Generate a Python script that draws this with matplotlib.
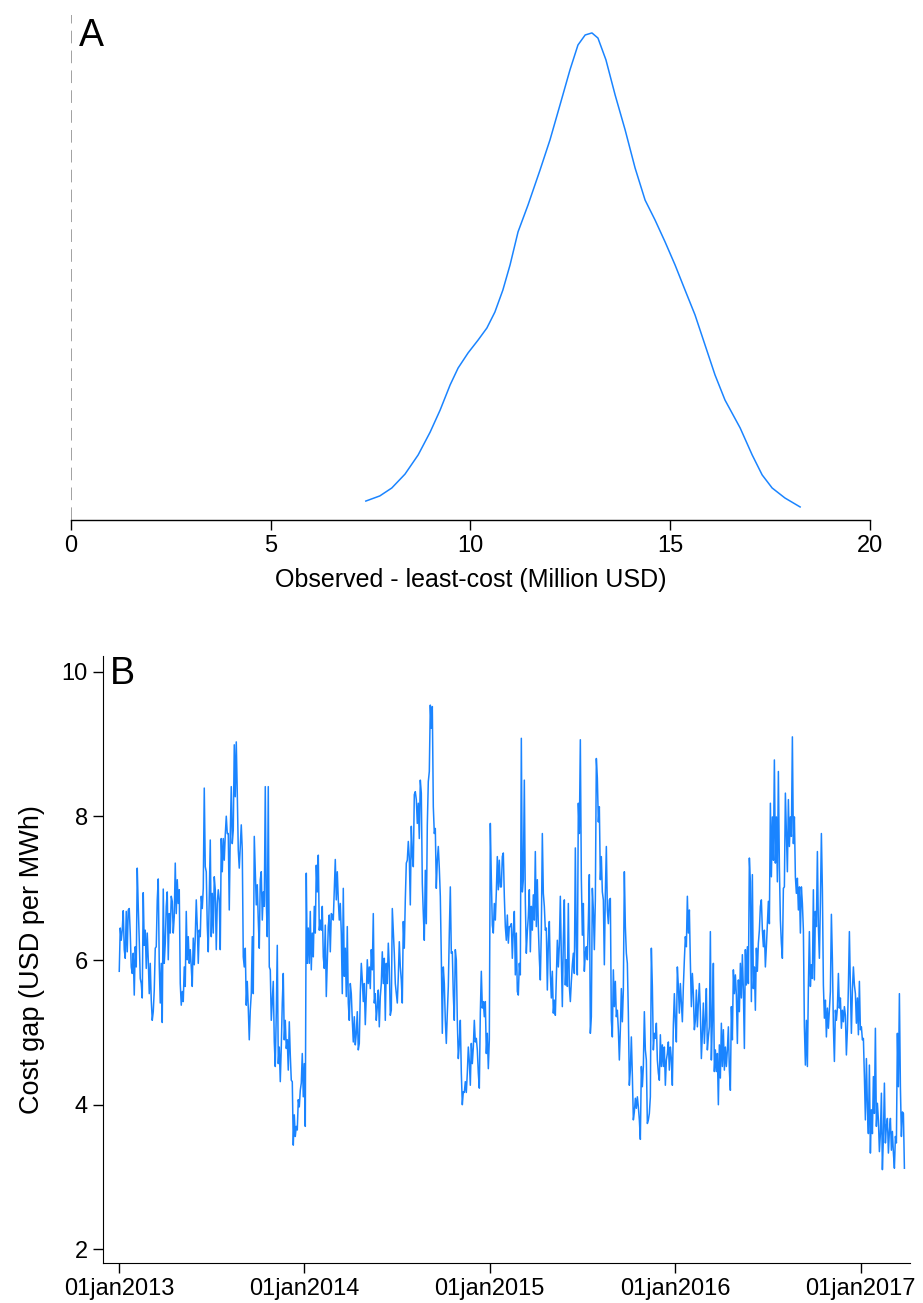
import matplotlib
matplotlib.use("Agg")
import matplotlib.pyplot as plt
import matplotlib.dates as mdates
import pandas as pd

plt.rcParams['font.family'] = ['Liberation Sans', 'DejaVu Sans']

# panel A: density of observed - least-cost (Million USD)
dens_x = [7.38, 7.73, 8.03, 8.36, 8.69, 8.99, 9.24, 9.49, 9.69, 9.94,
          10.19, 10.41, 10.61, 10.81, 10.99, 11.19, 11.44, 11.74, 11.99, 12.24,
          12.49, 12.69, 12.87, 13.04, 13.19, 13.39, 13.62, 13.87, 14.12, 14.37,
          14.62, 14.87, 15.12, 15.37, 15.62, 15.87, 16.12, 16.37, 16.75, 17.05,
          17.30, 17.55, 17.87, 18.25]
dens_y = [0.0074, 0.0094, 0.0125, 0.0179, 0.0254, 0.0343, 0.0429, 0.0527, 0.0593, 0.0652,
          0.0702, 0.0749, 0.0811, 0.0897, 0.0995, 0.1124, 0.1229, 0.1365, 0.1483, 0.1619,
          0.1756, 0.1853, 0.1892, 0.1900, 0.1880, 0.1795, 0.1658, 0.1522, 0.1373, 0.1248,
          0.1170, 0.1085, 0.0995, 0.0897, 0.0800, 0.0683, 0.0566, 0.0468, 0.0359, 0.0254,
          0.0176, 0.0125, 0.0086, 0.0051]
a_ticks = [0, 5, 10, 15, 20]

# panel B: daily cost gap (USD per MWh), read about every other day
gap_2013a = [5.85, 6.45, 6.28, 6.42, 6.69, 6.15, 6.03, 6.68, 6.12, 6.70,
             6.72, 6.38, 5.91, 5.82, 6.10, 5.52, 6.19, 5.91, 7.28, 6.75,
             6.28, 5.75, 5.68, 5.48, 6.94, 6.21, 6.42, 5.89, 6.38, 6.01,
             5.54, 5.96, 5.45, 5.17, 5.29, 5.59, 6.17, 6.19, 6.84, 7.13,
             5.94, 5.41, 5.96, 5.14, 6.99, 5.96, 6.24, 6.75, 6.95, 6.01,
             6.65, 6.38, 6.89, 6.82, 6.38, 6.61, 7.35, 6.65, 7.12, 6.79,
             6.98, 5.68, 5.38, 5.57, 5.43, 5.91, 5.64, 6.68, 6.01, 6.33,
             5.96, 6.15, 5.91, 5.64, 6.31, 5.94, 6.33, 6.84, 6.47, 5.96,
             6.42, 6.33, 6.89, 6.72, 7.00, 8.39, 7.30, 7.23, 6.49, 6.12,
             6.89]
gap_2013b = [7.67, 6.33, 6.93, 6.38, 7.16, 6.98, 6.15, 6.79, 6.98, 6.84,
             6.15, 7.69, 7.23, 7.69, 7.39, 7.74, 8.00, 7.76, 7.76, 6.70,
             7.76, 8.41, 7.62, 7.81, 8.99, 8.27, 9.03, 8.32, 7.53, 7.28,
             7.58, 7.88, 7.53, 6.05, 5.91, 6.17, 5.38, 5.71, 5.34, 4.90,
             5.31, 5.54, 6.33, 5.54, 7.72, 7.25, 6.77, 7.05, 6.56, 6.17,
             7.12, 7.23, 6.56, 6.95, 6.75, 8.41, 6.84, 6.33, 8.41, 5.91,
             5.87, 5.17, 5.43, 5.71, 4.87, 4.53, 5.27, 6.21, 4.57, 4.80,
             4.32, 4.80, 5.41, 5.82, 4.90, 5.17, 4.78, 4.90, 4.48, 5.15,
             4.69, 4.34, 4.32, 3.44, 3.86, 3.56, 3.70, 3.65, 4.07, 3.97,
             4.20, 4.30, 4.71, 4.11, 4.57, 3.70, 7.21, 5.96, 6.45, 5.96]
gap_2014a = [6.68, 5.87, 6.38, 6.05, 6.75, 6.38, 7.32, 6.95, 7.46, 6.42,
             6.56, 6.42, 6.75, 6.05, 5.89, 6.49, 5.50, 5.96, 6.47, 6.63,
             6.12, 6.65, 6.63, 6.56, 6.98, 7.40, 6.84, 7.23, 6.84, 6.56,
             6.79, 6.38, 5.54, 7.00, 5.78, 6.17, 5.50, 6.47, 5.41, 5.17,
             5.68, 5.54, 5.17, 4.87, 5.22, 4.83, 4.99, 5.29, 4.76, 4.85,
             5.54, 5.96, 5.73, 5.43, 5.68, 5.11, 5.52, 6.01, 5.68, 5.91,
             5.61, 6.15, 5.87, 6.65, 5.41, 5.54, 5.17, 5.36, 5.59, 5.08,
             5.50, 5.68, 6.12, 5.68, 6.03, 5.17, 5.96, 5.68, 6.24, 5.91,
             5.24, 5.31, 6.72, 6.42, 6.10, 5.68, 5.54, 5.41, 5.78, 6.26,
             5.91, 5.73, 5.41, 6.54, 6.17, 6.84, 7.35, 7.39, 7.65, 7.42]
gap_2014b = [6.77, 7.86, 7.46, 7.30, 8.30, 8.34, 8.23, 7.90, 8.18, 7.69,
             8.50, 8.32, 7.07, 6.65, 6.28, 7.25, 6.51, 7.88, 8.48, 8.62,
             9.54, 9.22, 9.52, 8.13, 7.76, 7.83, 7.00, 7.39, 7.58, 7.28,
             6.89, 6.05, 4.99, 5.91, 5.68, 5.17, 4.85, 5.27, 5.64, 6.38,
             7.02, 6.10, 6.12, 5.52, 5.17, 6.15, 6.01, 5.17, 4.64, 4.85,
             5.17, 4.44, 4.00, 4.18, 4.17, 4.32, 4.17, 4.44, 4.80, 4.60,
             4.27, 4.85, 4.57, 4.80, 5.17, 4.87, 4.92, 4.76, 4.44, 4.23,
             5.27, 5.85, 5.34, 5.43, 5.22, 5.43, 4.71, 4.99, 4.50, 4.90,
             7.90, 7.14, 6.49, 6.38, 6.79, 6.56, 6.95, 7.44, 6.98, 7.39,
             7.02, 7.02, 7.44, 7.49, 6.89, 6.47, 6.28, 6.63, 6.24, 6.47]
gap_2015a = [6.47, 6.51, 6.03, 6.42, 6.68, 5.80, 6.38, 5.57, 5.52, 5.96,
             5.80, 9.08, 6.95, 7.12, 8.50, 6.82, 6.10, 6.40, 6.61, 6.98,
             6.12, 6.75, 6.42, 6.91, 6.56, 7.51, 6.47, 7.12, 6.47, 6.03,
             5.73, 6.42, 7.76, 6.93, 6.75, 6.42, 6.45, 5.59, 6.24, 6.54,
             5.82, 5.48, 5.85, 5.27, 5.45, 5.24, 5.78, 6.28, 5.91, 6.21,
             6.89, 6.05, 5.36, 6.28, 6.84, 5.66, 6.01, 5.64, 6.79, 5.64,
             5.43, 5.71, 5.94, 6.10, 5.82, 7.56, 6.19, 5.80, 8.18, 7.76,
             9.06, 7.14, 6.35, 6.79, 5.85, 6.10, 6.19, 6.01, 6.54, 7.19,
             4.99, 5.22, 7.00, 6.70, 6.15, 6.84, 8.80, 8.53, 7.92, 8.13,
             7.12, 7.44, 6.95, 6.84, 5.94, 6.93, 7.58, 6.70, 6.51, 6.84]
gap_2015b = [6.86, 5.17, 4.94, 5.87, 5.36, 5.71, 5.22, 5.31, 5.04, 4.62,
             5.04, 5.61, 5.15, 5.59, 7.23, 6.47, 6.10, 5.96, 5.27, 4.27,
             4.48, 4.94, 4.41, 3.79, 3.90, 4.09, 3.95, 4.11, 3.97, 3.79,
             3.52, 4.53, 4.25, 4.53, 5.29, 4.76, 4.62, 3.74, 3.79, 3.88,
             4.11, 6.17, 5.64, 4.76, 4.99, 4.92, 5.13, 4.62, 4.44, 4.34,
             4.97, 4.53, 4.83, 4.53, 4.80, 4.27, 4.62, 4.71, 4.87, 4.48,
             4.80, 4.64, 4.27, 5.11, 5.54, 5.15, 4.87, 5.91, 5.64, 5.27,
             5.68, 5.41, 5.15, 5.64, 6.01, 6.33, 6.19, 6.89, 6.38, 6.70,
             5.98, 5.36, 5.82, 5.54, 5.04, 5.17, 5.59, 5.08, 5.41, 5.68,
             5.29, 4.64, 4.99, 5.41, 4.85, 5.17, 5.61, 4.76, 4.94, 5.08]
gap_2016 = [6.40, 4.62, 5.17, 5.96, 4.46, 4.76, 4.46, 4.71, 4.00, 4.83,
            4.37, 5.13, 4.53, 5.04, 4.48, 4.80, 4.53, 4.76, 5.08, 4.48,
            4.20, 5.36, 4.90, 5.87, 5.54, 5.80, 5.52, 4.85, 5.73, 5.29,
            5.96, 5.48, 6.08, 5.59, 4.78, 6.15, 5.66, 6.19, 5.68, 7.42,
            7.09, 5.43, 7.19, 5.61, 5.91, 5.31, 6.17, 5.85, 6.24, 6.42,
            6.75, 6.84, 6.42, 6.19, 6.42, 5.91, 6.19, 6.51, 6.82, 6.51,
            8.18, 7.16, 7.99, 7.39, 8.78, 7.35, 7.99, 7.09, 8.62, 7.30,
            6.56, 6.24, 6.03, 7.00, 7.02, 8.32, 7.76, 7.23, 8.23, 7.58,
            7.99, 7.72, 9.10, 7.62, 7.99, 7.16, 6.93, 7.14, 6.70, 7.02,
            6.38, 7.02, 6.79, 6.42, 5.08, 4.55, 5.17, 4.53, 5.64, 6.40]
gap_2016b = [5.64, 5.94, 5.75, 6.98, 5.73, 6.68, 6.47, 7.51, 6.47, 6.03,
             6.79, 7.76, 6.98, 5.66, 5.20, 5.45, 4.94, 5.34, 5.06, 5.31,
             5.57, 6.64, 6.01, 5.08, 4.60, 5.31, 5.17, 5.34, 5.82, 5.34,
             5.48, 5.06, 5.31, 5.15, 5.36, 5.24, 4.69, 5.04, 5.64, 6.40,
             5.64, 4.99, 5.59, 5.91, 5.66]
gap_2017 = [5.54, 5.13, 5.48, 4.97, 5.71, 5.04, 5.08, 4.90, 4.92, 4.39,
            3.79, 4.64, 3.97, 3.60, 4.55, 3.33, 3.93, 3.60, 4.39, 3.88,
            5.06, 3.70, 4.02, 3.79, 3.35, 3.60, 4.16, 3.10, 3.56, 4.30,
            3.47, 3.70, 3.81, 3.33, 3.63, 3.81, 3.37, 3.63, 3.33, 3.12,
            3.56, 3.47, 4.99, 4.25, 5.54, 4.25, 3.56, 3.90, 3.88, 3.12]
first_day = "2013-01-01"
last_day = "2017-03-28"
b_ticks = ["2013-01-01", "2014-01-01", "2015-01-01", "2016-01-01", "2017-01-01"]
b_labels = ["01jan2013", "01jan2014", "01jan2015", "01jan2016", "01jan2017"]
b_yticks = [2, 4, 6, 8, 10]

gap = (gap_2013a + gap_2013b + gap_2014a + gap_2014b + gap_2015a + gap_2015b
       + gap_2016 + gap_2016b + gap_2017)
days = pd.date_range(first_day, last_day, periods=len(gap))

blue = "#1a84ff"
fs = 17

fig = plt.figure(figsize=(9.23, 13.03), dpi=100)

# ---- panel A
axA = fig.add_axes([0.0769, 0.6009, 0.8657, 0.3876])
axA.plot(dens_x, dens_y, color=blue, lw=1.1)
axA.axvline(0, color="#9a9a9a", lw=1.3, ls=(0, (7, 4)))
axA.set_xlim(0, 20)
axA.set_ylim(0, 0.197)
axA.set_xticks(a_ticks)
axA.set_yticks([])
for s in ["left", "right", "top"]:
    axA.spines[s].set_visible(False)
axA.spines["bottom"].set_linewidth(1.0)
axA.tick_params(axis="x", length=7, width=1.0, labelsize=fs, pad=4)
axA.set_xlabel("Observed - least-cost (Million USD)", fontsize=18, labelpad=8)
axA.text(0.01, 0.995, "A", transform=axA.transAxes, fontsize=27,
         va="top", ha="left")

# ---- panel B
axB = fig.add_axes([0.1116, 0.0307, 0.8743, 0.4658])
axB.plot(days, gap, color=blue, lw=1.1)
axB.set_xlim(pd.Timestamp("2012-11-30"), pd.Timestamp("2017-04-08"))
axB.set_ylim(1.806, 10.22)
axB.set_yticks(b_yticks)
axB.set_xticks([mdates.date2num(pd.Timestamp(t)) for t in b_ticks])
axB.set_xticklabels(b_labels)
for s in ["right", "top"]:
    axB.spines[s].set_visible(False)
axB.tick_params(axis="both", length=7, width=1.0, labelsize=fs, pad=4)
axB.set_ylabel("Cost gap (USD per MWh)", fontsize=19.5, labelpad=12)
axB.text(0.008, 1.0, "B", transform=axB.transAxes, fontsize=27,
         va="top", ha="left")

fig.savefig("out.png", dpi=100)
